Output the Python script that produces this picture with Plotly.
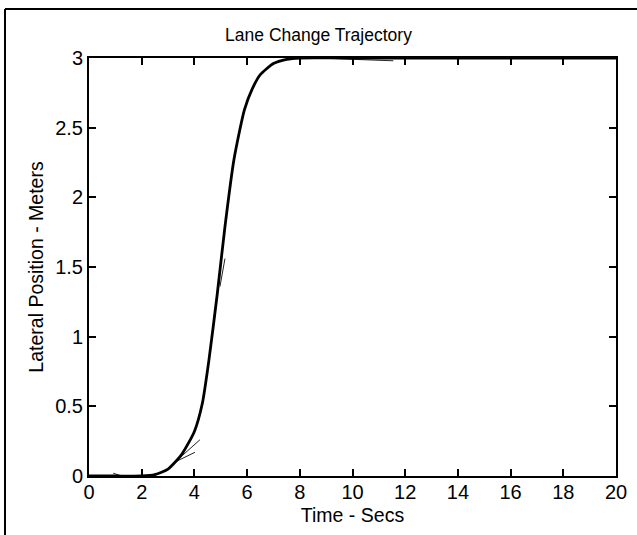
import plotly.graph_objects as go

# Main lane-change trajectory (time in s, lateral position in m)
time_s = [0, 1, 2, 2.5, 3, 3.5, 4, 4.3, 4.55, 4.87, 5.16, 5.5, 5.9, 6.2, 6.5, 7, 7.5, 8, 10, 20]
lat_m = [0, 0, 0, 0.01, 0.05, 0.15, 0.32, 0.52, 0.83, 1.31, 1.79, 2.27, 2.63, 2.78, 2.88, 2.96, 2.99, 3, 3, 3]

# Thin auxiliary (tangent) segments visible in the figure
seg1_t = [3.07, 4.21]
seg1_y = [0.067, 0.26]
seg2_t = [3.26, 4.02]
seg2_y = [0.10, 0.17]
seg3_t = [0.92, 1.24]
seg3_y = [0.02, 0.0]
seg4_t = [8.64, 11.55]
seg4_y = [3.0, 2.98]
seg5_t = [4.97, 5.16]
seg5_y = [1.36, 1.56]

x_ticks = [0, 2, 4, 6, 8, 10, 12, 14, 16, 18, 20]
y_ticks = [0, 0.5, 1, 1.5, 2, 2.5, 3]

FONT = "Liberation Sans, Arial, Helvetica, sans-serif"

fig = go.Figure()
for st, sy in [(seg1_t, seg1_y), (seg2_t, seg2_y), (seg3_t, seg3_y), (seg4_t, seg4_y), (seg5_t, seg5_y)]:
    fig.add_trace(go.Scatter(x=st, y=sy, mode="lines",
                             line=dict(color="#222222", width=1), showlegend=False, hoverinfo="skip"))

fig.add_trace(go.Scatter(x=time_s, y=lat_m, mode="lines",
                         line=dict(color="black", width=2.8, shape="spline", smoothing=0.6),
                         showlegend=False))

L, R, T, B = 89, 21, 58, 59
W, H = 637, 535
pw, ph = W - L - R, H - T - B

def px(xp):
    return (xp - L) / pw

def py(yp):
    return (H - B - yp) / ph

fig.update_layout(
    width=W, height=H,
    margin=dict(l=L, r=R, t=T, b=B, autoexpand=False),
    paper_bgcolor="white", plot_bgcolor="white",
    font=dict(family=FONT, color="black"),
    title=dict(text="Lane Change Trajectory", x=px(352.5), xanchor="center",
               y=1 - 35 / H, yanchor="middle", font=dict(size=17.5, family=FONT, color="black")),
    xaxis=dict(range=[0, 20], tickvals=x_ticks, ticks="inside", ticklen=7, tickwidth=1.5,
               tickcolor="black", showline=True, linecolor="black", linewidth=2, mirror="ticks",
               showgrid=False, zeroline=False, tickfont=dict(size=20, family=FONT), automargin=False,
               ticklabelstandoff=-3,
               title=dict(text="Time - Secs", font=dict(size=19.5, family=FONT), standoff=6)),
    yaxis=dict(range=[0, 3], tickvals=y_ticks, ticks="inside", ticklen=7, tickwidth=1.5,
               tickcolor="black", showline=True, linecolor="black", linewidth=2, mirror="ticks",
               showgrid=False, zeroline=False, tickfont=dict(size=20, family=FONT), automargin=False,
               title=dict(text="Lateral Position - Meters", font=dict(size=19.5, family=FONT), standoff=6)),
    shapes=[
        dict(type="line", xref="paper", yref="paper", x0=px(5), x1=px(637), y0=py(9), y1=py(9),
             line=dict(color="black", width=2)),
        dict(type="line", xref="paper", yref="paper", x0=px(5), x1=px(5), y0=py(9), y1=py(535),
             line=dict(color="black", width=2)),
    ],
)

fig.write_html("out.html", config={"displayModeBar": False},
               post_script="document.body.style.margin='0';document.body.style.overflow='hidden';")
